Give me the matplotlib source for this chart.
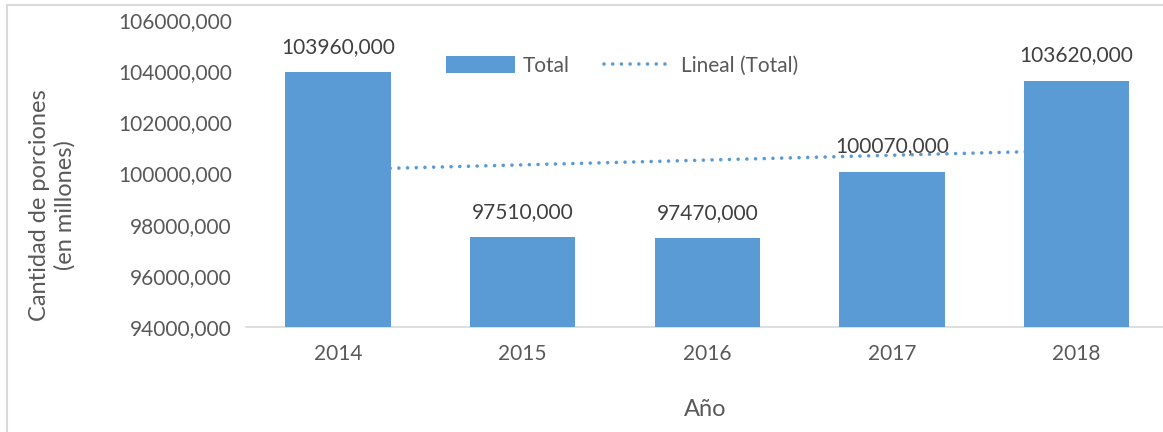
import numpy as np
import matplotlib.pyplot as plt
from matplotlib.patches import Rectangle
from matplotlib.lines import Line2D
from matplotlib.patches import Patch

years = ['2014', '2015', '2016', '2017', '2018']
totals = [103960, 97510, 97470, 100070, 103620]
yticks = [94000, 96000, 98000, 100000, 102000, 104000, 106000]

plt.rcParams['font.family'] = ['Lato', 'DejaVu Sans']
gray = '#595959'
blue = '#5B9BD5'
dots = (0, (0.01, 2.4))

def fmt(v):
    return f'{v:.3f}'.replace('.', ',')

fig = plt.figure(figsize=(11.63, 4.32), dpi=100)
W, H = 1163, 432
ax = fig.add_axes([245.6 / W, 1 - 327 / H, (1169 - 245.6) / W, (327 - 20) / H])

x = np.arange(len(years))
ax.bar(x, totals, width=0.57, color=blue, zorder=3)

# linear trend line (least squares fit)
k, b = np.polyfit(x, totals, 1)
ax.plot(x, k * x + b, color=blue, linestyle=dots, linewidth=2.6,
        dash_capstyle='round', zorder=2)

for xi, v in zip(x, totals):
    ax.text(xi, v + 600, fmt(v), ha='center', va='bottom', fontsize=15, color='#404040', zorder=4)

ax.set_xlim(-0.5, 4.5)
ax.set_ylim(94000, 106000)
ax.set_yticks(yticks)
ax.set_yticklabels([fmt(t) for t in yticks], fontsize=15, color=gray)
ax.set_xticks(x)
ax.set_xticklabels(years, fontsize=15, color=gray)
ax.tick_params(length=0, pad=10)
ax.tick_params(axis='x', pad=12)
for s in ['top', 'right', 'left']:
    ax.spines[s].set_visible(False)
ax.spines['bottom'].set_color('#D9D9D9')
ax.spines['bottom'].set_linewidth(1.2)

fig.text(52 / W, 1 - 205 / H, 'Cantidad de porciones\n(en millones)', rotation=90,
         ha='center', va='center', fontsize=17, color=gray, linespacing=1.25)
fig.text(705 / W, 1 - 410 / H, 'Año', ha='center', va='center', fontsize=17, color=gray)

handles = [Patch(facecolor=blue, edgecolor='none'),
           Line2D([0], [0], color=blue, linestyle=dots, linewidth=2.6, dash_capstyle='round')]
fig.legend(handles, ['Total', 'Lineal (Total)'], loc='center', bbox_to_anchor=(622 / W, 1 - 66 / H),
           ncol=2, frameon=False, fontsize=15, labelcolor=gray, handlelength=3.3, handleheight=0.9,
           handletextpad=0.4, columnspacing=1.6)

fig.patches.append(Rectangle((7 / W, -0.1), 1.2, 1 - 5 / H + 0.1, transform=fig.transFigure,
                             fill=False, edgecolor='#D9D9D9', linewidth=1.5))

fig.savefig('out.png', dpi=100)
